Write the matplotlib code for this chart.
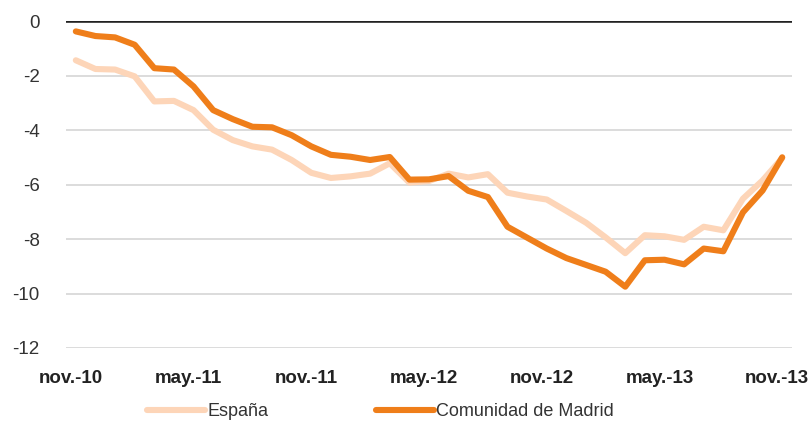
import matplotlib
matplotlib.use('Agg')
import matplotlib.pyplot as plt
import matplotlib.transforms as mtransforms
import numpy as np

plt.rcParams['font.family'] = ['Liberation Sans', 'DejaVu Sans']

# monthly series, nov-10 .. nov-13
months = np.arange(37)
tick_pos = [0, 6, 12, 18, 24, 30, 36]
tick_labels = ['nov.-10', 'may.-11', 'nov.-11', 'may.-12', 'nov.-12', 'may.-13', 'nov.-13']

espana = [-1.44, -1.76, -1.78, -2.03, -2.95, -2.93, -3.27, -3.99, -4.37, -4.60,
          -4.72, -5.10, -5.57, -5.76, -5.70, -5.60, -5.22, -5.93, -5.87, -5.60,
          -5.74, -5.62, -6.30, -6.44, -6.55, -6.97, -7.40, -7.94, -8.52, -7.86,
          -7.90, -8.03, -7.55, -7.68, -6.52, -5.85, -5.03]
madrid = [-0.38, -0.55, -0.60, -0.87, -1.73, -1.78, -2.40, -3.27, -3.60, -3.88,
          -3.90, -4.19, -4.60, -4.91, -4.98, -5.10, -4.99, -5.82, -5.81, -5.69,
          -6.23, -6.46, -7.55, -7.95, -8.35, -8.70, -8.95, -9.20, -9.75, -8.78,
          -8.76, -8.93, -8.35, -8.45, -7.02, -6.22, -5.00]

fig = plt.figure(figsize=(8.11, 4.21), dpi=100)
ax = fig.add_axes([0.0814, 0.1734, 0.8952, 0.7766])

ax.plot(months, espana, color='#FDD5B8', lw=4.4, label='España', solid_capstyle='round')
ax.plot(months, madrid, color='#EF7E1A', lw=4.4, label='Comunidad de Madrid', solid_capstyle='round')

ax.set_xlim(-0.5, 36.5)
ax.set_ylim(-12, 0)
ax.set_yticks([0, -2, -4, -6, -8, -10, -12])
ax.set_yticklabels(['0', '-2', '-4', '-6', '-8', '-10', '-12'])
ax.yaxis.grid(True, color='#d9d9d9', lw=1.3)
ax.set_axisbelow(True)
ax.axhline(0, color='#222222', lw=2.6, zorder=1)

ax.set_xticks(tick_pos)
ax.set_xticklabels(tick_labels, fontweight='bold')
for s in ax.spines.values():
    s.set_visible(False)
ax.tick_params(axis='x', length=0, pad=15.5, labelsize=13.5, colors='#222222')
ax.tick_params(axis='y', length=0, pad=19, labelsize=13.5, colors='#333333')
offset = mtransforms.ScaledTranslation(-5 / 100, 0, fig.dpi_scale_trans)
for lab in ax.get_xticklabels():
    lab.set_transform(lab.get_transform() + offset)

fig.legend(loc='lower left', bbox_to_anchor=(0.168, -0.024), ncol=2, frameon=False,
           fontsize=13, handlelength=3.2, handletextpad=0.12, columnspacing=6.0,
           labelcolor='#333333', borderaxespad=0.2)

fig.savefig('out.png', dpi=100)
